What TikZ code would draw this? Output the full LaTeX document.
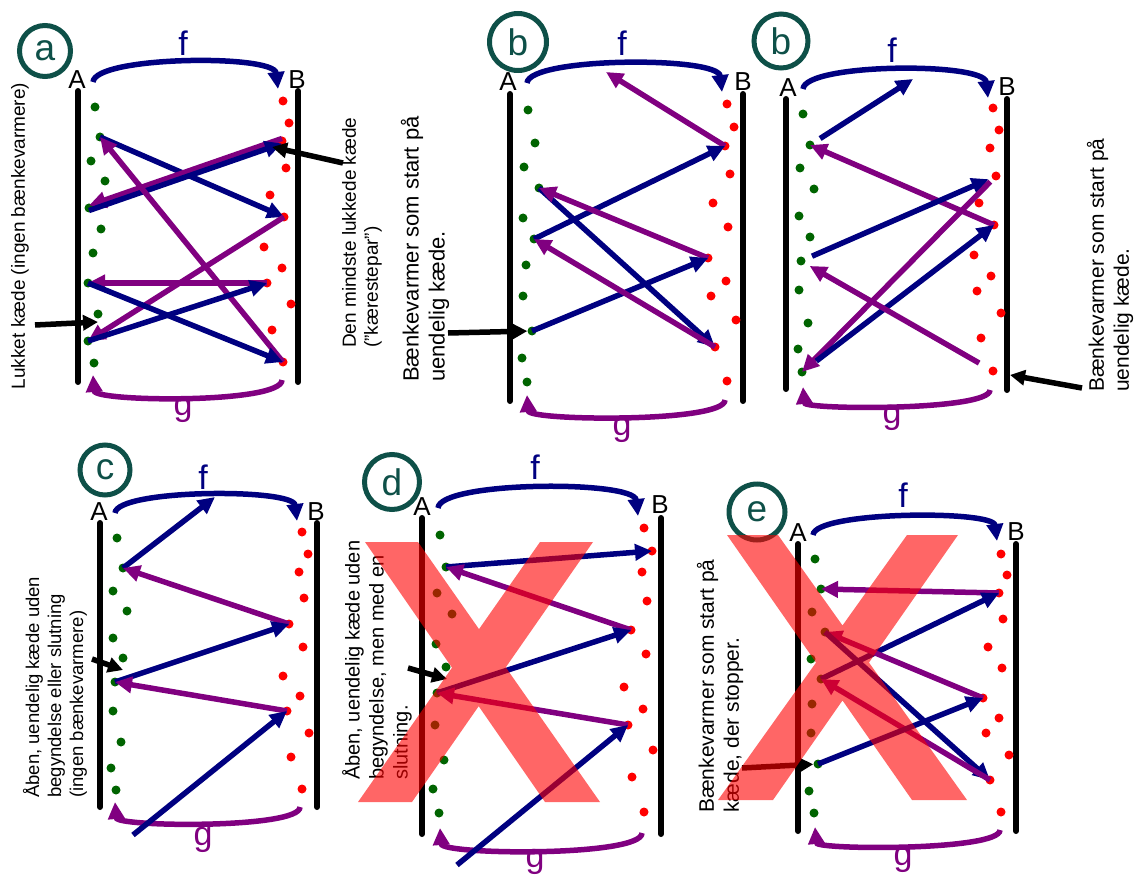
\documentclass[tikz,border=0pt]{standalone}
\usepackage{fontspec}
\setmainfont{Liberation Sans}
\usetikzlibrary{arrows.meta}
\definecolor{fblue}{RGB}{0,0,128}
\definecolor{gpurp}{RGB}{128,0,128}
\definecolor{dgreen}{RGB}{0,100,0}
\definecolor{tealc}{RGB}{14,80,72}
\newcommand\fsz[2]{\fontsize{#1}{#2}\selectfont}
\begin{document}
\begin{tikzpicture}[x=1pt,y=-1pt,
  gdot/.style={circle,fill=dgreen,inner sep=0pt,minimum size=9pt},
  rdot/.style={circle,fill=red,inner sep=0pt,minimum size=9pt},
  axisbar/.style={line width=6pt,black,line cap=round},
  farr/.style={fblue,line width=5.5pt,-{Triangle[length=17pt,width=16pt]}},
  garr/.style={gpurp,line width=5.5pt,-{Triangle[length=17pt,width=16pt]}},
  karr/.style={black,line width=5.5pt,-{Triangle[length=15pt,width=15pt]}},
  ablab/.style={font=\fsz{26}{26},inner sep=0pt},
  flab/.style={font=\fsz{34}{34},text=fblue,inner sep=0pt},
  glab/.style={font=\fsz{34}{34},text=gpurp,inner sep=0pt},
  pcirc/.style={circle,draw=tealc,line width=5pt,inner sep=0pt,text=tealc,font=\fsz{37}{37}},
  note/.style={rotate=90,anchor=west,align=left,inner sep=0pt},
  xmark/.style={fill=red,fill opacity=0.6,draw=none}
]
\useasboundingbox (0,0) rectangle (1137,877);

% ================= panel a =================
\node[pcirc,minimum size=51pt] (a-c) at (45,51) {a};
\node[ablab] (a-A) at (77,80) {A};
\node[ablab] (a-B) at (297,80) {B};
\draw[axisbar] (78,91) -- (78,382);
\draw[axisbar] (298,91) -- (298,382);
\foreach \x/\y [count=\i] in {95/107,100/137,91/161,105/181,89/208,101/229,93/253,88/283,98/314,88/341,94/363}
  \node[gdot] (a-g\i) at (\x,\y) {};
\foreach \x/\y [count=\i] in {283/101,289/123,282/141,286/168,270/195,284/217,264/247,282/268,267/283,291/304,272/330,283/362}
  \node[rdot] (a-r\i) at (\x,\y) {};
\coordinate (a-fs) at (93,82); \coordinate (a-fe) at (278,89);
\coordinate (a-gs) at (282,380); \coordinate (a-ge) at (93,375);
\draw[farr] (a-fs) .. controls (95,56) and (274,54) .. (a-fe);
\draw[garr] (a-gs) .. controls (282,404) and (95,402) .. (a-ge);
\node[flab] (a-f) at (183,43) {f};
\node[glab] (a-gl) at (183,410) {g};
\draw[farr] (a-g2.center) -- (a-r6.center);
\draw[garr] ([yshift=2.5pt]a-r3.center) -- ([yshift=2.5pt]a-g5.center);
\draw[farr] ([yshift=-2.5pt]a-g5.center) -- ([yshift=-2.5pt]a-r3.center);
\draw[garr] (a-r12.center) -- (a-g2.center);
\draw[garr] (a-r6.center) -- (a-g10.center);
\draw[garr] (a-r9.center) -- (a-g8.center);
\draw[farr] (a-g8.center) -- (a-r12.center);
\draw[farr] (a-g10.center) -- (a-r9.center);
\coordinate (a-k1) at (35,325); \coordinate (a-k1e) at (98,322);
\coordinate (a-k2) at (343,163); \coordinate (a-k2e) at (272,147);
\draw[karr] (a-k1) -- (a-k1e);
\draw[karr] (a-k2) -- (a-k2e);
\node[rotate=90,inner sep=0pt,font=\fsz{19}{22}] (a-t1) at (20,236) {Lukket kæde (ingen bænkevarmere)};
\node[note,font=\fsz{19}{22}] (a-t2) at (362,348) {Den mindste lukkede kæde\\("kærestepar")};

% ================= panel b =================
\node[pcirc,minimum size=57pt] (b-c) at (518,42) {b};
\node[ablab] (b-A) at (508,82) {A};
\node[ablab] (b-B) at (743,82) {B};
\draw[axisbar] (510,94) -- (510,401);
\draw[axisbar] (743,94) -- (743,401);
\foreach \x/\y [count=\i] in {528/110,535/143,524/167,539/188,523/218,534/239,526/265,523/296,532/331,522/358,527/382}
  \node[gdot] (b-g\i) at (\x,\y) {};
\foreach \x/\y [count=\i] in {727/104,734/127,725/146,730/174,713/203,728/227,708/258,726/281,711/296,736/320,715/347,727/381}
  \node[rdot] (b-r\i) at (\x,\y) {};
\coordinate (b-fs) at (527,83); \coordinate (b-fe) at (722,92);
\coordinate (b-gs) at (725,400); \coordinate (b-ge) at (527,395);
\draw[farr] (b-fs) .. controls (529,57) and (718,56) .. (b-fe);
\draw[garr] (b-gs) .. controls (725,423) and (529,421) .. (b-ge);
\node[flab] (b-f) at (622,43) {f};
\node[glab] (b-gl) at (622,430) {g};
\coordinate (b-free) at (606,72);
\draw[garr] (b-r3.center) -- (b-free);
\draw[farr] (b-g6.center) -- (b-r3.center);
\draw[farr] (b-g4.center) -- (b-r11.center);
\draw[garr] (b-r7.center) -- (b-g4.center);
\draw[farr] (b-g9.center) -- (b-r7.center);
\draw[garr] (b-r11.center) -- (b-g6.center);
\coordinate (b-k1) at (448,333);
\draw[karr] (b-k1) -- (b-g9);
\node[note,font=\fsz{22}{26}] (b-t) at (425,382) {Bænkevarmer som start på\\uendelig kæde.};

% ================= panel b' =================
\node[pcirc,minimum size=54pt] (bb-c) at (781,41) {b};
\node[ablab] (bb-A) at (788,88) {A};
\node[ablab] (bb-B) at (1007,87) {B};
\draw[axisbar] (786,99) -- (786,389);
\draw[axisbar] (1007,99) -- (1007,390);
\foreach \x/\y [count=\i] in {803/114,810/145,800/168,814/189,799/216,810/237,801/261,799/290,808/323,798/349,802/372}
  \node[gdot] (bb-g\i) at (\x,\y) {};
\foreach \x/\y [count=\i] in {993/108,999/130,990/148,996/176,979/203,994/225,974/255,991/276,977/291,1001/313,981/338,993/371}
  \node[rdot] (bb-r\i) at (\x,\y) {};
\coordinate (bb-fs) at (803,89); \coordinate (bb-fe) at (988,98);
\coordinate (bb-gs) at (990,390); \coordinate (bb-ge) at (803,387);
\draw[farr] (bb-fs) .. controls (805,63) and (984,62) .. (bb-fe);
\draw[garr] (bb-gs) .. controls (990,411) and (805,410) .. (bb-ge);
\node[flab] (bb-f) at (892,50) {f};
\node[glab] (bb-gl) at (892,418) {g};
\coordinate (bb-free) at (913,79);
\draw[farr,shorten <=12pt] (bb-g2.center) -- (bb-free);
\draw[garr] (bb-r6.center) -- (bb-g2.center);
\draw[farr,shorten <=12pt,shorten >=8pt] (bb-g7.center) -- (bb-r4.center);
\draw[garr,shorten <=8pt] (bb-r4.center) -- (bb-g11.center);
\draw[farr,shorten <=18pt] (bb-g11.center) -- (bb-r6.center);
\draw[garr,shorten <=16pt,shorten >=10pt] (bb-r12.center) -- (bb-g7.center);
\coordinate (bb-k1) at (1082,388); \coordinate (bb-k1e) at (1010,375);
\draw[karr] (bb-k1) -- (bb-k1e);
\node[note,font=\fsz{21}{25}] (bb-t) at (1110,392) {Bænkevarmer som start på\\uendelig kæde.};

% ================= panel c =================
\node[pcirc,minimum size=50pt] (c-c) at (105,470) {c};
\node[ablab] (c-A) at (99,512) {A};
\node[ablab] (c-B) at (316,512) {B};
\draw[axisbar] (100,523) -- (100,807);
\draw[axisbar] (317,523) -- (317,807);
\foreach \x/\y [count=\i] in {117/538,123/568,113/591,127/611,113/638,123/658,115/682,113/711,121/742,111/768,116/790}
  \node[gdot] (c-g\i) at (\x,\y) {};
\foreach \x/\y [count=\i] in {302/532,308/554,299/572,304/598,289/624,303/647,283/676,300/696,287/711,309/733,291/757,302/789}
  \node[rdot] (c-r\i) at (\x,\y) {};
\coordinate (c-fs) at (115,513); \coordinate (c-fe) at (297,521);
\coordinate (c-gs) at (300,807); \coordinate (c-ge) at (115,802);
\draw[farr] (c-fs) .. controls (117,489) and (293,488) .. (c-fe);
\draw[garr] (c-gs) .. controls (300,829) and (117,827) .. (c-ge);
\node[flab] (c-f) at (203,477) {f};
\node[glab] (c-gl) at (203,840) {g};
\coordinate (c-free1) at (215,497); \coordinate (c-free2) at (133,835);
\draw[farr] (c-g2.center) -- (c-free1);
\draw[garr] (c-r5.center) -- (c-g2.center);
\draw[farr] (c-g7.center) -- (c-r5.center);
\draw[garr] (c-r9.center) -- (c-g7.center);
\draw[farr] (c-free2) -- (c-r9.center);
\coordinate (c-k1) at (92,659);
\draw[karr] (c-k1) -- (123,670);
\node[note,font=\fsz{18.5}{22}] (c-t) at (55,798) {Åben, uendelig kæde uden\\begyndelse eller slutning\\(ingen bænkevarmere)};

% ================= panel d =================
\node[pcirc,minimum size=55pt] (d-c) at (392,482) {d};
\node[ablab] (d-A) at (422,507) {A};
\node[ablab] (d-B) at (660,505) {B};
\draw[axisbar] (422,518) -- (422,834);
\draw[axisbar] (661,518) -- (661,834);
\foreach \x/\y [count=\i] in {440/535,446/567,437/593,452/614,436/644,446/667,437/693,435/725,444/760,433/789,439/813}
  \node[gdot] (d-g\i) at (\x,\y) {};
\foreach \x/\y [count=\i] in {644/528,652/551,642/572,647/601,631/630,646/654,624/687,643/709,628/725,653/750,632/777,644/812}
  \node[rdot] (d-r\i) at (\x,\y) {};
\coordinate (d-fs) at (438,508); \coordinate (d-fe) at (638,516);
\coordinate (d-gs) at (642,833); \coordinate (d-ge) at (440,828);
\draw[farr] (d-fs) .. controls (440,481) and (634,480) .. (d-fe);
\draw[garr] (d-gs) .. controls (642,857) and (442,855) .. (d-ge);
\node[flab] (d-f) at (535,467) {f};
\node[glab] (d-gl) at (535,862) {g};
\coordinate (d-free) at (457,865);
\draw[farr] (d-g2.center) -- (d-r2.center);
\draw[garr] (d-r5.center) -- (d-g2.center);
\draw[farr] (d-g7.center) -- (d-r5.center);
\draw[garr] (d-r9.center) -- (d-g7.center);
\draw[farr] (d-free) -- (d-r9.center);
\coordinate (d-k1) at (408,668);
\draw[karr] (d-k1) -- (447,679);
\node[note,font=\fsz{20}{24}] (d-t) at (377,780) {Åben, uendelig kæde uden\\begyndelse, men med en\\slutning.};

% ================= panel e =================
\node[pcirc,minimum size=56pt] (e-c) at (757,512) {e};
\node[ablab] (e-A) at (798,533) {A};
\node[ablab] (e-B) at (1016,532) {B};
\draw[axisbar] (798,544) -- (798,831);
\draw[axisbar] (1016,544) -- (1016,831);
\foreach \x/\y [count=\i] in {815/559,821/589,812/612,825/632,811/659,821/679,812/704,811/733,818/764,809/791,814/813}
  \node[gdot] (e-g\i) at (\x,\y) {};
\foreach \x/\y [count=\i] in {1001/554,1007/575,999/593,1003/619,988/647,1002/668,983/698,999/718,986/733,1009/755,990/780,1001/812}
  \node[rdot] (e-r\i) at (\x,\y) {};
\coordinate (e-fs) at (813,535); \coordinate (e-fe) at (997,541);
\coordinate (e-gs) at (1000,830); \coordinate (e-ge) at (815,827);
\draw[farr] (e-fs) .. controls (815,511) and (993,510) .. (e-fe);
\draw[garr] (e-gs) .. controls (1000,851) and (817,850) .. (e-ge);
\node[flab] (e-f) at (903,495) {f};
\node[glab] (e-gl) at (903,860) {g};
\draw[garr] (e-r3.center) -- (e-g2.center);
\draw[farr] (e-g6.center) -- (e-r3.center);
\draw[garr] (e-r7.center) -- (e-g4.center);
\draw[farr] (e-g4.center) -- (e-r11.center);
\draw[garr] (e-r11.center) -- (e-g6.center);
\draw[farr] (e-g9.center) -- (e-r7.center);
\coordinate (e-k1) at (742,768);
\draw[karr] (e-k1) -- (e-g9);
\node[note,font=\fsz{21}{25}] (e-t) at (720,813) {Bænkevarmer som start på\\kæde, der stopper.};

% ================= red crosses =================
\fill[xmark] (365,542) -- (418,542) -- (600,802) -- (545,802) -- cycle
             (540,542) -- (593,542) -- (412,802) -- (358,802) -- cycle;
\fill[xmark] (727,535) -- (778,535) -- (967,800) -- (912,800) -- cycle
             (907,535) -- (958,535) -- (773,800) -- (718,800) -- cycle;
\end{tikzpicture}
\end{document}
